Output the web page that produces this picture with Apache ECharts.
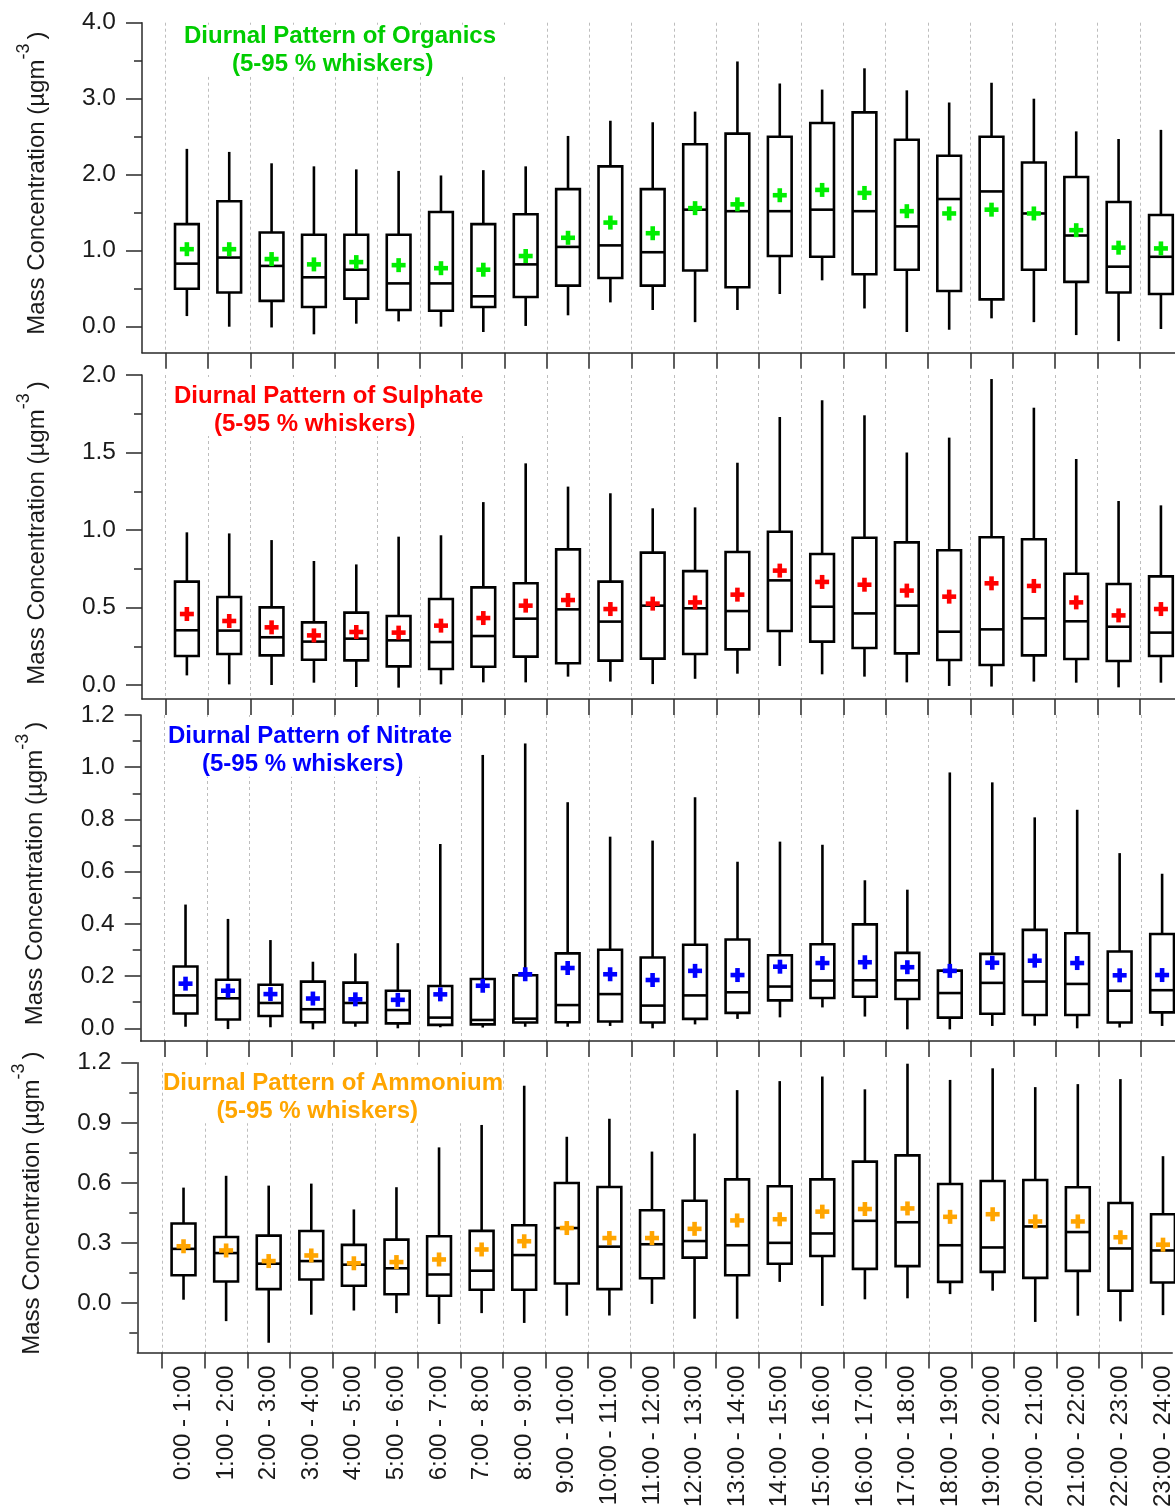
<!DOCTYPE html>
<html>
<head>
<meta charset="utf-8">
<script src="https://cdn.jsdelivr.net/npm/echarts@6/dist/echarts.min.js"></script>
<style>
html,body{margin:0;padding:0;background:#fff;}
#chart{width:1175px;height:1510px;}
</style>
</head>
<body>
<div id="chart"></div>
<script>
// ---------- DATA ----------
const hours = ['0:00 - 1:00','1:00 - 2:00','2:00 - 3:00','3:00 - 4:00','4:00 - 5:00','5:00 - 6:00',
  '6:00 - 7:00','7:00 - 8:00','8:00 - 9:00','9:00 - 10:00','10:00 - 11:00','11:00 - 12:00',
  '12:00 - 13:00','13:00 - 14:00','14:00 - 15:00','15:00 - 16:00','16:00 - 17:00','17:00 - 18:00',
  '18:00 - 19:00','19:00 - 20:00','20:00 - 21:00','21:00 - 22:00','22:00 - 23:00','23:00 - 24:00'];

// Organics
const orgP5   = [0.14,0.00,-0.01,-0.10,0.04,0.07,0.00,-0.07,0.01,0.15,0.32,0.22,0.06,0.22,0.43,0.61,0.24,-0.07,-0.04,0.11,0.06,-0.11,-0.19,-0.03];
const orgQ1   = [0.50,0.45,0.34,0.26,0.37,0.22,0.21,0.26,0.39,0.54,0.64,0.54,0.74,0.52,0.93,0.92,0.69,0.75,0.47,0.36,0.75,0.59,0.45,0.43];
const orgMed  = [0.83,0.91,0.80,0.65,0.75,0.57,0.57,0.40,0.82,1.05,1.07,0.98,1.54,1.52,1.52,1.54,1.52,1.32,1.68,1.78,1.49,1.20,0.79,0.92];
const orgQ3   = [1.35,1.65,1.24,1.21,1.21,1.21,1.51,1.35,1.48,1.81,2.11,1.81,2.40,2.54,2.50,2.68,2.82,2.46,2.25,2.50,2.16,1.97,1.64,1.47];
const orgP95  = [2.34,2.30,2.15,2.11,2.07,2.05,1.99,2.06,2.11,2.51,2.71,2.69,2.83,3.49,3.20,3.12,3.40,3.11,2.95,3.21,3.00,2.57,2.47,2.59];
const orgMean = [1.02,1.02,0.89,0.82,0.85,0.81,0.77,0.75,0.93,1.17,1.37,1.23,1.56,1.61,1.73,1.80,1.76,1.52,1.49,1.54,1.49,1.27,1.04,1.03];

// Sulphate
const so4P5   = [0.062,0.004,0.000,0.015,-0.013,-0.017,0.004,0.017,0.017,0.054,0.022,0.006,0.040,0.073,0.123,0.069,0.054,0.017,-0.006,-0.010,0.022,0.015,-0.015,0.015];
const so4Q1   = [0.187,0.200,0.191,0.163,0.159,0.120,0.103,0.118,0.183,0.140,0.157,0.170,0.200,0.230,0.348,0.280,0.239,0.204,0.161,0.129,0.191,0.168,0.155,0.187];
const so4Med  = [0.353,0.351,0.308,0.280,0.299,0.288,0.277,0.316,0.428,0.488,0.409,0.512,0.495,0.477,0.675,0.505,0.462,0.512,0.344,0.359,0.430,0.411,0.376,0.338];
const so4Q3   = [0.667,0.568,0.501,0.404,0.467,0.445,0.555,0.630,0.656,0.875,0.667,0.854,0.735,0.858,0.989,0.845,0.950,0.920,0.869,0.953,0.940,0.718,0.652,0.701];
const so4P95  = [0.985,0.978,0.935,0.800,0.778,0.957,0.966,1.180,1.430,1.280,1.237,1.140,1.146,1.434,1.729,1.837,1.740,1.500,1.596,1.974,1.789,1.458,1.187,1.159];
const so4Mean = [0.458,0.413,0.372,0.320,0.342,0.338,0.383,0.432,0.512,0.548,0.490,0.525,0.533,0.583,0.738,0.665,0.647,0.609,0.570,0.656,0.639,0.533,0.449,0.490];

// Nitrate
const no3P5   = [0.006,-0.003,0.004,-0.004,0.006,0.000,0.004,0.003,0.006,0.006,0.009,0.000,0.015,0.036,0.042,0.080,0.045,-0.004,-0.004,0.009,0.010,0.000,0.003,0.009];
const no3Q1   = [0.057,0.034,0.047,0.023,0.022,0.019,0.013,0.015,0.022,0.023,0.026,0.022,0.036,0.059,0.107,0.116,0.121,0.112,0.041,0.056,0.051,0.051,0.022,0.061];
const no3Med  = [0.126,0.115,0.097,0.073,0.097,0.070,0.041,0.032,0.037,0.089,0.131,0.087,0.126,0.138,0.160,0.183,0.184,0.184,0.135,0.174,0.179,0.170,0.144,0.146];
const no3Q3   = [0.237,0.186,0.167,0.179,0.175,0.144,0.162,0.189,0.203,0.287,0.301,0.271,0.320,0.340,0.280,0.322,0.398,0.289,0.221,0.285,0.377,0.364,0.294,0.361];
const no3P95  = [0.474,0.419,0.338,0.255,0.287,0.326,0.706,1.047,1.091,0.866,0.734,0.719,0.885,0.638,0.715,0.703,0.567,0.531,0.980,0.942,0.808,0.837,0.671,0.592];
const no3Mean = [0.171,0.144,0.131,0.114,0.111,0.109,0.130,0.163,0.207,0.231,0.207,0.185,0.220,0.204,0.236,0.250,0.253,0.234,0.220,0.251,0.259,0.250,0.203,0.204];

// Ammonium
const nh4P5   = [0.016,-0.091,-0.199,-0.059,-0.038,-0.051,-0.105,-0.051,-0.100,-0.064,-0.063,-0.005,-0.079,-0.079,0.105,-0.015,0.018,0.023,0.044,0.061,-0.095,-0.064,-0.092,-0.061];
const nh4Q1   = [0.138,0.107,0.069,0.117,0.086,0.043,0.036,0.066,0.066,0.097,0.069,0.123,0.226,0.138,0.196,0.234,0.170,0.184,0.105,0.155,0.125,0.160,0.061,0.102];
const nh4Med  = [0.270,0.249,0.196,0.209,0.191,0.173,0.142,0.161,0.239,0.374,0.281,0.293,0.309,0.288,0.300,0.347,0.410,0.403,0.288,0.277,0.382,0.354,0.272,0.262];
const nh4Q3   = [0.397,0.329,0.336,0.359,0.290,0.316,0.333,0.360,0.388,0.599,0.579,0.463,0.510,0.617,0.583,0.617,0.706,0.737,0.594,0.609,0.614,0.578,0.499,0.443];
const nh4P95  = [0.576,0.635,0.586,0.596,0.467,0.578,0.777,0.889,1.085,0.830,0.920,0.756,0.846,1.063,1.108,1.131,1.067,1.195,1.114,1.172,1.078,1.093,1.118,0.733];
const nh4Mean = [0.283,0.262,0.209,0.237,0.198,0.204,0.217,0.267,0.308,0.374,0.324,0.324,0.370,0.412,0.418,0.456,0.469,0.472,0.430,0.443,0.407,0.407,0.328,0.291];

// Tick labels
const orgTicks = [0, 1, 2, 3, 4];
const orgMinor = [0.5, 1.5, 2.5, 3.5];
const so4Ticks = [0, 0.5, 1.0, 1.5, 2.0];
const so4Minor = [0.25, 0.75, 1.25, 1.75];
const no3Ticks = [0, 0.2, 0.4, 0.6, 0.8, 1.0, 1.2];
const no3Minor = [0.1, 0.3, 0.5, 0.7, 0.9, 1.1];
const nh4Ticks = [0, 0.3, 0.6, 0.9, 1.2];
const nh4Minor = [-0.15, 0.15, 0.45, 0.75, 1.05];

const titles = ['Diurnal Pattern of Organics','Diurnal Pattern of Sulphate','Diurnal Pattern of Nitrate','Diurnal Pattern of Ammonium'];
const subtitle = '(5-95 % whiskers)';

// ---------- LAYOUT / STYLE ----------
const FONT = "'Liberation Sans', Arial, Helvetica, sans-serif";
const panels = [
  {name:titles[0], textColor:'#00cc00', markColor:'#00ee00', p5:orgP5,q1:orgQ1,med:orgMed,q3:orgQ3,p95:orgP95,mean:orgMean,
   ticks:orgTicks, minor:orgMinor, ymin:-0.342, ymax:4.0,
   grid:{left:142, top:22.7, height:330}, b0:165.7, step:42.35,
   title:{left:174, top:22.7, pad:[0,14,0,10], off:48}, nameShift:9},
  {name:titles[1], textColor:'#ff0000', markColor:'#ff0000', p5:so4P5,q1:so4Q1,med:so4Med,q3:so4Q3,p95:so4P95,mean:so4Mean,
   ticks:so4Ticks, minor:so4Minor, ymin:-0.0903, ymax:2.0,
   grid:{left:142, top:375, height:324}, b0:165.7, step:42.35,
   title:{left:169, top:375, pad:[7,12,0,5], off:40}, nameShift:8},
  {name:titles[2], textColor:'#0000ff', markColor:'#0000ff', p5:no3P5,q1:no3Q1,med:no3Med,q3:no3Q3,p95:no3P95,mean:no3Mean,
   ticks:no3Ticks, minor:no3Minor, ymin:-0.0486, ymax:1.2,
   grid:{left:140.7, top:715, height:326}, b0:164.3, step:42.46,
   title:{left:166, top:715, pad:[7.7,5,0,2], off:34}, nameShift:9},
  {name:titles[3], textColor:'#ffa500', markColor:'#ffa500', p5:nh4P5,q1:nh4Q1,med:nh4Med,q3:nh4Q3,p95:nh4P95,mean:nh4Mean,
   ticks:nh4Ticks, minor:nh4Minor, ymin:-0.248, ymax:1.2,
   grid:{left:137.3, top:1062.7, height:293.3}, b0:162.3, step:42.7,
   title:{left:163, top:1062.7, pad:[6.6,0,0,0], off:53.6}, nameShift:9}
];
const BOX_W = 0.56;
const boundaries = hours.map((h, k) => k).concat([hours.length]);
const centers = hours.map((h, k) => k + 0.5);
const AX = {color:'#2a2a2a', width:1.5};

function makeRender(color) {
  return function (params, api) {
    const x = api.value(0);
    const lo = api.coord([x, api.value(1)]);
    const q1 = api.coord([x, api.value(2)]);
    const md = api.coord([x, api.value(3)]);
    const q3 = api.coord([x, api.value(4)]);
    const hi = api.coord([x, api.value(5)]);
    const mn = api.coord([x, api.value(6)]);
    const hw = api.size([BOX_W, 0])[0] / 2;
    const cx = q1[0];
    const blk = {stroke:'#000', lineWidth:2.6, fill:null};
    const arm = 7;
    return {
      type:'group',
      children:[
        {type:'line', shape:{x1:cx,y1:lo[1],x2:cx,y2:q1[1]}, style:blk},
        {type:'line', shape:{x1:cx,y1:q3[1],x2:cx,y2:hi[1]}, style:blk},
        {type:'rect', shape:{x:cx-hw,y:q3[1],width:2*hw,height:q1[1]-q3[1]}, style:{stroke:'#000',lineWidth:2.6,fill:'rgba(0,0,0,0)'}},
        {type:'line', shape:{x1:cx-hw,y1:md[1],x2:cx+hw,y2:md[1]}, style:blk},
        {type:'line', shape:{x1:mn[0]-arm,y1:mn[1],x2:mn[0]+arm,y2:mn[1]}, style:{stroke:color,lineWidth:4.6}},
        {type:'line', shape:{x1:mn[0],y1:mn[1]-arm,x2:mn[0],y2:mn[1]+arm}, style:{stroke:color,lineWidth:4.6}}
      ]
    };
  };
}

const grid = [], xAxis = [], yAxis = [], series = [], title = [];
panels.forEach((p, i) => {
  grid.push({left:p.grid.left, top:p.grid.top, height:p.grid.height, width:1175 - p.grid.left, containLabel:false});
  const xmin = -(p.b0 - p.grid.left) / p.step;
  const xmax = (1175 - p.b0) / p.step;
  xAxis.push({
    gridIndex:i, type:'value', min:xmin, max:xmax,
    axisLine:{show:true, onZero:false, lineStyle:AX},
    axisTick:{show:true, customValues:boundaries, length:16, inside:false, lineStyle:AX},
    axisLabel:{show:i===3, customValues:centers, rotate:90, margin:13, fontSize:24, color:'#1a1a1a', fontFamily:FONT,
      formatter:(v) => hours[Math.floor(v)]},
    splitLine:{show:true, lineStyle:{color:'#bdbdbd', width:1, type:[3,3]}}
  });
  yAxis.push({
    gridIndex:i, type:'value', min:p.ymin, max:p.ymax, position:'left',
    axisLine:{show:true, onZero:false, lineStyle:AX},
    axisTick:{show:true, customValues:p.ticks, length:16, inside:false, lineStyle:AX},
    axisLabel:{customValues:p.ticks, formatter:(v) => Number(v).toFixed(1), fontSize:24.5, margin:26, color:'#1a1a1a', fontFamily:FONT},
    splitLine:{show:false},
    name:'{a|Mass Concentration (µgm}{s|-3}{c|)}',
    nameLocation:'middle', nameGap:93,
    nameTextStyle:{padding:[0,0,0,p.nameShift],
      rich:{
        a:{fontSize:24, fontFamily:FONT, color:'#1a1a1a', lineHeight:34, verticalAlign:'bottom'},
        s:{fontSize:18, fontFamily:FONT, color:'#1a1a1a', lineHeight:34, verticalAlign:'top'},
        c:{fontSize:24, fontFamily:FONT, color:'#1a1a1a', lineHeight:34, verticalAlign:'bottom', padding:[0,0,0,4]}
      }}
  });
  yAxis.push({
    gridIndex:i, type:'value', min:p.ymin, max:p.ymax, position:'left', offset:0,
    axisLine:{show:false, onZero:false},
    axisTick:{show:true, customValues:p.minor, length:8, inside:false, lineStyle:AX},
    axisLabel:{show:false}, splitLine:{show:false}
  });
  series.push({
    type:'custom', xAxisIndex:i, yAxisIndex:2*i, z:3,
    renderItem:makeRender(p.markColor),
    encode:{x:0, y:[1,2,3,4,5,6]},
    data:hours.map((h, k) => [k + 0.5, p.p5[k], p.q1[k], p.med[k], p.q3[k], p.p95[k], p.mean[k]])
  });
  title.push({
    left:p.title.left, top:p.title.top, padding:p.title.pad, backgroundColor:'#ffffff', z:10,
    text:'{a|' + p.name + '}\n{b|' + subtitle + '}',
    textAlign:'left',
    textStyle:{
      rich:{
        a:{fontSize:24, fontWeight:'bold', fontFamily:FONT, color:p.textColor, lineHeight:28},
        b:{fontSize:24, fontWeight:'bold', fontFamily:FONT, color:p.textColor, lineHeight:28, padding:[0,0,0,p.title.off]}
      }
    }
  });
});

const chart = echarts.init(document.getElementById('chart'), null, {renderer:'canvas'});
chart.setOption({
  backgroundColor:'#ffffff',
  animation:false,
  title:title,
  grid:grid,
  xAxis:xAxis,
  yAxis:yAxis,
  series:series
});
</script>
</body>
</html>
